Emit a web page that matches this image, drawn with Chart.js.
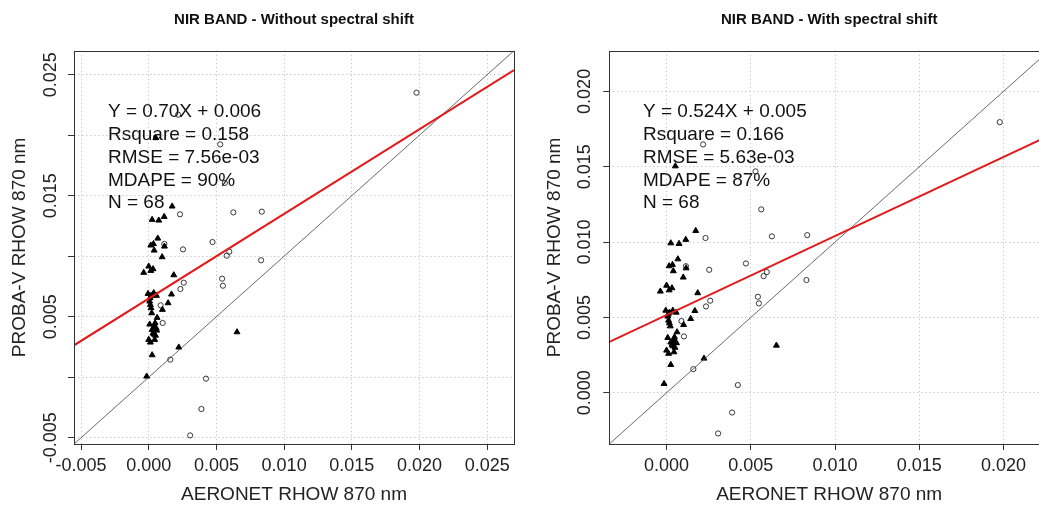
<!DOCTYPE html>
<html>
<head>
<meta charset="utf-8">
<script src="https://cdn.jsdelivr.net/npm/chart.js@4.4.0/dist/chart.umd.min.js"></script>
<style>
  html, body { margin: 0; padding: 0; background: #fff; }
  #wrap { position: relative; width: 1039px; height: 506px; overflow: hidden; background: #fff; }
  #left { position: absolute; left: 0; top: 0; }
  #right { position: absolute; left: 520px; top: 0; }
</style>
</head>
<body>
<div id="wrap">
  <canvas id="left" width="520" height="506"></canvas>
  <canvas id="right" width="540" height="506"></canvas>
</div>
<script>
const FONT = '"Liberation Sans", Arial, sans-serif';

// open circles: AERONET x, PROBA-V y without / with spectral shift
const circleX = [0.01978, 0.00528, 0.00562, 0.00217, 0.00231, 0.00625, 0.00835, 0.00471, 0.00115, 0.00253, 0.00595, 0.00576,
  0.00830, 0.00542, 0.00548, 0.00259, 0.00234, 0.00088, 0.00103, 0.00159, 0.00423, 0.00389, 0.00306];
const circleYNoShift = [0.02351, 0.01924, 0.01605, 0.02169, 0.01346, 0.01362, 0.01368, 0.01117, 0.01101, 0.01056, 0.01037, 0.01004,
  0.00966, 0.00814, 0.00756, 0.00781, 0.00729, 0.00594, 0.00448, 0.00145, -0.00012, -0.00263, -0.00481];
const circleYShift = [0.01796, 0.01469, 0.01217, 0.01648, 0.01027, 0.01038, 0.01046, 0.00858, 0.00840, 0.00816, 0.00801, 0.00774,
  0.00748, 0.00637, 0.00593, 0.00611, 0.00573, 0.00476, 0.00374, 0.00157, 0.00051, -0.00131, -0.00270];

// filled triangles
const triX = [0.00052, 0.00173, 0.00025, 0.00074, 0.00114, 0.00067, 0.00015, 0.00035, 0.00040, 0.00116, 0.00099, 0.00000,
  -0.00037, 0.00015, 0.00032, 0.00185, -0.00005, 0.00017, 0.00037, 0.00057, 0.00168, 0.00007, 0.00012, 0.00143,
  0.00101, 0.00017, 0.00022, 0.00062, 0.00007, 0.00040, 0.00025, 0.00059, 0.00032, 0.00000, 0.00044, 0.00012,
  0.00222, 0.00025, -0.00015, 0.00652, 0.00047, 0.00055, 0.00037, 0.00010, 0.00050];
const triYNoShift = [0.01977, 0.01412, 0.01302, 0.01296, 0.01326, 0.01147, 0.01090, 0.01101, 0.01048, 0.01081, 0.00993, 0.00916,
  0.00864, 0.00880, 0.00894, 0.00844, 0.00690, 0.00674, 0.00696, 0.00674, 0.00685, 0.00627, 0.00599, 0.00613,
  0.00558, 0.00572, 0.00530, 0.00492, 0.00437, 0.00420, 0.00393, 0.00387, 0.00365, 0.00310, 0.00310, 0.00288,
  0.00247, 0.00183, 0.00007, 0.00373, 0.00448, 0.00405, 0.00355, 0.00655, 0.00345];
const triYShift = [0.01504, 0.01075, 0.00993, 0.00989, 0.01016, 0.00887, 0.00841, 0.00850, 0.00808, 0.00827, 0.00766, 0.00712,
  0.00673, 0.00681, 0.00695, 0.00662, 0.00546, 0.00533, 0.00546, 0.00533, 0.00544, 0.00507, 0.00480, 0.00491,
  0.00451, 0.00462, 0.00442, 0.00403, 0.00365, 0.00347, 0.00335, 0.00330, 0.00320, 0.00281, 0.00270, 0.00260,
  0.00228, 0.00186, 0.00060, 0.00314, 0.00370, 0.00335, 0.00310, 0.00520, 0.00300];

// fitted lines
const fitNoShift = [0.70, 0.0065];
const fitShift = [0.524, 0.00516];

// axis limits and labelled y ticks
const rangeNoShift = [-0.00552, 0.02698];
const rangeShift = [-0.00340, 0.02270];
const yLabelsNoShift = [-0.005, 0.005, 0.015, 0.025];
const yLabelsShift = [0.000, 0.005, 0.010, 0.015, 0.020];

const statsNoShift = ['Y = 0.70X + 0.006', 'Rsquare = 0.158', 'RMSE = 7.56e-03', 'MDAPE = 90%', 'N = 68'];
const statsShift = ['Y = 0.524X + 0.005', 'Rsquare = 0.166', 'RMSE = 5.63e-03', 'MDAPE = 87%', 'N = 68'];

const panelDecor = {
    id: 'panelDecor',
    beforeDatasetsDraw(chart, args, opts) {
        const ctx = chart.ctx;
        ctx.save();
        ctx.font = '19px ' + FONT;
        ctx.fillStyle = '#111';
        ctx.textAlign = 'left';
        ctx.textBaseline = 'middle';
        opts.lines.forEach((t, i) => ctx.fillText(t, opts.x, opts.y + i * 22.8));
        ctx.restore();
    },
    afterDraw(chart) {
        const { left, top, right, bottom } = chart.chartArea;
        const ctx = chart.ctx;
        ctx.save();
        ctx.strokeStyle = '#333';
        ctx.lineWidth = 1;
        ctx.strokeRect(Math.round(left) + 0.5, Math.round(top) + 0.5, Math.round(right - left), Math.round(bottom - top));
        ctx.restore();
    }
};

function makePanel(id, p) {
    const pts = (xs, ys) => xs.map((x, i) => ({ x, y: ys[i] }));
    const [lo, hi] = p.range;
    const [a, b] = p.fit;
    const axisFont = { family: FONT, size: 18 };
    const titleFont = { family: FONT, size: 19 };
    const grid = { color: '#cccccc', lineWidth: 1, tickLength: 6, tickColor: '#333', tickWidth: 1, tickBorderDash: [] };
    return new Chart(document.getElementById(id), {
        type: 'scatter',
        data: {
            datasets: [
                { data: [{ x: lo, y: a * lo + b }, { x: hi, y: a * hi + b }], showLine: true,
                  borderColor: '#e3191c', borderWidth: 2, pointRadius: 0 },
                { data: [{ x: lo, y: lo }, { x: hi, y: hi }], showLine: true,
                  borderColor: '#444', borderWidth: 0.8, pointRadius: 0 },
                { data: pts(triX, p.triY), pointStyle: 'triangle', pointRadius: 3.4,
                  backgroundColor: '#000', borderColor: '#000', borderWidth: 1 },
                { data: pts(circleX, p.circY), pointStyle: 'circle', pointRadius: 2.6,
                  backgroundColor: 'rgba(0,0,0,0)', borderColor: '#222', borderWidth: 0.9 }
            ]
        },
        options: {
            responsive: false,
            animation: false,
            devicePixelRatio: 1,
            layout: { padding: { left: 0, right: p.padRight, top: 0, bottom: 0 } },
            plugins: {
                legend: { display: false },
                tooltip: { enabled: false },
                title: { display: true, text: p.title, fullSize: false, color: '#111',
                         font: { family: FONT, size: 15, weight: 'bold' }, padding: { top: 11, bottom: 21.7 } },
                panelDecor: { lines: p.stats, x: p.textX, y: 112 }
            },
            scales: {
                x: {
                    type: 'linear', min: lo, max: hi,
                    afterFit: s => { s.height = 62; },
                    ticks: { stepSize: 0.005, includeBounds: false, autoSkip: false, maxRotation: 0,
                             padding: 5, color: '#222', font: axisFont, callback: v => v.toFixed(3) },
                    grid: grid,
                    border: { display: false, dash: [1.5, 2.5] },
                    title: { display: true, text: 'AERONET RHOW 870 nm', color: '#222', font: titleFont,
                             padding: { top: 0, bottom: 0 } }
                },
                y: {
                    type: 'linear', min: lo, max: hi,
                    afterFit: s => { s.width = p.yWidth; },
                    ticks: { stepSize: 0.005, includeBounds: false, autoSkip: false, minRotation: 90, maxRotation: 90,
                             crossAlign: 'center', padding: p.yTickPad, color: '#222', font: axisFont,
                             callback: v => p.yLabels.some(t => Math.abs(t - v) < 1e-9) ? v.toFixed(3) : '' },
                    grid: grid,
                    border: { display: false, dash: [1.5, 2.5] },
                    title: { display: true, text: 'PROBA-V RHOW 870 nm', color: '#222', font: titleFont,
                             padding: { top: p.yTitlePad, bottom: 0 } }
                }
            }
        },
        plugins: [panelDecor]
    });
}

makePanel('left', {
    title: 'NIR BAND - Without spectral shift', range: rangeNoShift, fit: fitNoShift,
    triY: triYNoShift, circY: circleYNoShift, stats: statsNoShift, yLabels: yLabelsNoShift,
    textX: 108, padRight: 6, yWidth: 74, yTickPad: -9, yTitlePad: 8.6
});
makePanel('right', {
    title: 'NIR BAND - With spectral shift', range: rangeShift, fit: fitShift,
    triY: triYShift, circY: circleYShift, stats: statsShift, yLabels: yLabelsShift,
    textX: 123, padRight: 11, yWidth: 89.3, yTickPad: -4.7, yTitlePad: 23.6
});
</script>
</body>
</html>
